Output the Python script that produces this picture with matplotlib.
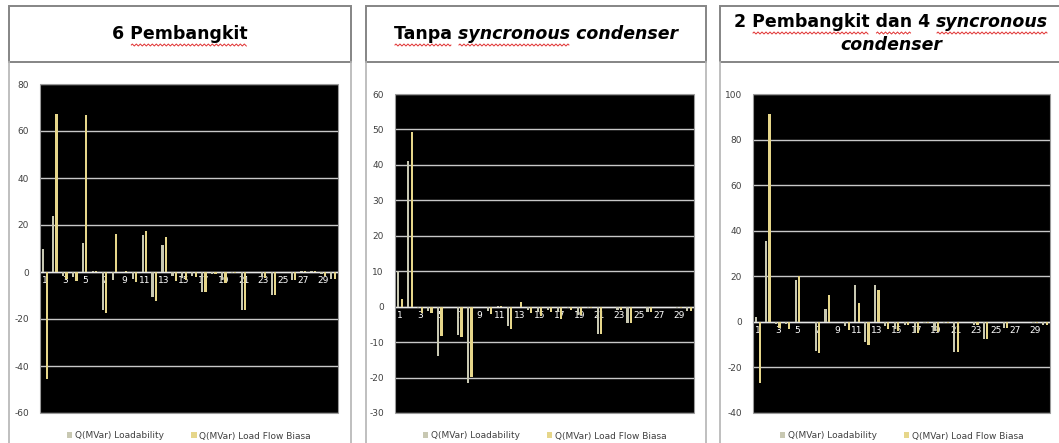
import numpy as np
import matplotlib.pyplot as plt
from matplotlib.patches import Rectangle
from matplotlib.lines import Line2D

plt.rcParams['font.family'] = ['DejaVu Sans']
plt.rcParams['axes.unicode_minus'] = False

W, H = 1059, 443

# bus numbers 1..30
buses = np.arange(1, 31)
xlabels = [str(b) if b % 2 == 1 else '' for b in buses]

# 6 Pembangkit
load1 = [10, 23.8, -1.8, -2, 12.5, 0.6, -16, -3.3, 0, -2.8, 15.6, -10.6, 11.5, -1.8, -2.5,
         -1.5, -8.4, -1, -3.3, -0.5, -16.2, 0, -2, -9.6, 0, -3.2, 0.3, 0.5, -1, -3]
flow1 = [-45.5, 67.2, -3, -4, 66.6, 0.6, -17.3, 16.2, 0.5, -4.4, 17.6, -12.3, 15, -4, -3.5,
         -2, -8.4, -1, -4.6, -0.5, -16.2, 0, -2.5, -9.6, 0, -3.5, 0.6, 0.3, -1.5, -3]

# Tanpa syncronous condenser
load2 = [10, 41, -0.5, -1.1, -13.8, 0, -8, -21.6, 0, -1.2, 0.3, -5.4, 0, -1, -1.5,
         -1, -1.5, -0.5, -2.3, -0.3, -7.7, 0, -0.8, -4.7, 0, -1.5, 0, 0, -0.5, -1.3]
flow2 = [2.2, 49.3, -1.9, -1.9, -8.3, 0, -8.6, -19.9, 0, -2.1, 0.3, -6.3, 1.2, -1.9, -2.5,
         -1.5, -3.6, -0.8, -2.3, -0.3, -7.7, 0, -0.8, -4.7, 0, -1.5, 0, 0, -0.5, -1.3]

# 2 Pembangkit dan 4 syncronous condenser
load3 = [2.2, 35.3, -1, -1, 18.2, 0, -12.6, 5.5, 0, -2, 16.2, -9, 16.2, -2, -3,
         -1.5, -4.8, -0.5, -4, -0.5, -13.1, 0, -1.5, -7.7, 0, -2.5, 0, 0, -0.5, -1.5]
flow3 = [-27, 91.2, -2.6, -3, 20.3, 0, -13.6, 11.8, 0, -3.5, 8.2, -10, 14, -3, -4,
         -1.5, -5, -0.5, -4.5, -0.5, -13.1, 0, -1.5, -7.7, 0, -2.5, 0, 0, -0.5, -1.5]

legend_labels = ['Q(MVar) Loadability', 'Q(MVar) Load Flow Biasa']
GRAY = '#C8C8B2'
YELLOW = '#E6D68A'
TXT = '#404040'
TSIZE = 12.5

fig = plt.figure(figsize=(W / 100, H / 100), dpi=100)
fig.patch.set_facecolor('white')


def fbox(x0, y0, x1, y1):
    return [x0 / W, 1 - y1 / H, (x1 - x0) / W, (y1 - y0) / H]


# table frames
frames = [(9, 351), (366, 706), (720, 1066)]
for x0, x1 in frames:
    fig.add_artist(Rectangle((x0 / W, 1 - 62 / H), (x1 - x0) / W, 56 / H,
                             transform=fig.transFigure, fill=False, ec='#858585', lw=1.4))
    for xx in (x0, x1):
        fig.add_artist(Line2D([xx / W, xx / W], [0, 1 - 62 / H], transform=fig.transFigure,
                              color='#b4b4b4', lw=1.2))

renderer = fig.canvas.get_renderer()


def measure(s, it):
    t = fig.text(0, 0, s, fontsize=TSIZE, weight='bold', style='italic' if it else 'normal')
    w = t.get_window_extent(renderer).width
    t.remove()
    return w


def squiggle(x0, x1, y):
    # red spell-check underline
    xs = np.arange(x0, x1 + 0.5, 1.0)
    ys = y + 1.0 * np.sin((xs - x0) * np.pi / 2)
    fig.add_artist(Line2D(xs / W, ys / H, transform=fig.transFigure, color='#e03030', lw=0.7))


def rich_line(parts, xc, yc, wavy=()):
    # parts: (text, italic); wavy: words that get the spell-check line
    widths = [measure(s, it) for s, it in parts]
    x = xc - sum(widths) / 2
    for (s, it), w in zip(parts, widths):
        fig.text(x / W, yc / H, s, ha='left', va='center', fontsize=TSIZE, weight='bold',
                 style='italic' if it else 'normal', color='black')
        for word in wavy:
            i = s.find(word)
            if i >= 0:
                x0 = x + (measure(s[:i], it) if i > 0 else 0)
                squiggle(x0 + 1, x0 + measure(word, it) - 1, yc - 11)
        x += w


rich_line([('6 Pembangkit', False)], 180, H - 34, wavy=['Pembangkit'])
rich_line([('Tanpa ', False), ('syncronous condenser', True)], 536, H - 34,
          wavy=['Tanpa', 'syncronous'])
rich_line([('2 Pembangkit dan 4 ', False), ('syncronous', True)], 891, H - 22,
          wavy=['Pembangkit', 'dan', 'syncronous'])
rich_line([('condenser', True)], 891, H - 45)

panels = [
    (fbox(40, 84, 338, 413), load1, flow1, (-60, 80), 20),
    (fbox(395, 94, 694, 413), load2, flow2, (-30, 60), 10),
    (fbox(753, 94, 1050, 413), load3, flow3, (-40, 100), 20),
]

for rect, load, flow, ylim, step in panels:
    ax = fig.add_axes(rect)
    ax.set_facecolor('black')
    b1 = ax.bar(buses - 0.17, load, width=0.22, color=GRAY, zorder=3)
    b2 = ax.bar(buses + 0.17, flow, width=0.22, color=YELLOW, zorder=3)
    ax.set_xlim(0.5, 30.5)
    ax.set_ylim(*ylim)
    ax.set_yticks(np.arange(ylim[0], ylim[1] + 1, step))
    ax.yaxis.grid(True, color='#c8c8c8', lw=1)
    ax.set_axisbelow(True)
    ax.tick_params(axis='y', length=0, pad=8, labelsize=6.5, labelcolor=TXT)

    for side in ('top', 'left', 'right'):
        ax.spines[side].set_visible(False)
    ax.spines['bottom'].set_position(('data', 0))
    ax.spines['bottom'].set_color('#e8e8e8')
    ax.spines['bottom'].set_linewidth(1)
    ax.spines['bottom'].set_zorder(2)
    ax.set_xticks(buses)
    ax.set_xticklabels(xlabels)
    ax.tick_params(axis='x', length=0, pad=3, labelsize=6.5, labelcolor='white')
    ax.add_patch(Rectangle((0, 0), 1, 1, transform=ax.transAxes, fill=False,
                           ec='#9a9a9a', lw=0.8, clip_on=False, zorder=5))

    h = rect[3] * H
    leg = ax.legend([b1, b2], legend_labels, loc='center', ncol=2, frameon=False,
                    bbox_to_anchor=(0.5, -23 / h), fontsize=6.5, handlelength=0.6,
                    handleheight=0.6, handletextpad=0.3, columnspacing=3.0)
    for t in leg.get_texts():
        t.set_color(TXT)

fig.savefig('out.png', dpi=100)
